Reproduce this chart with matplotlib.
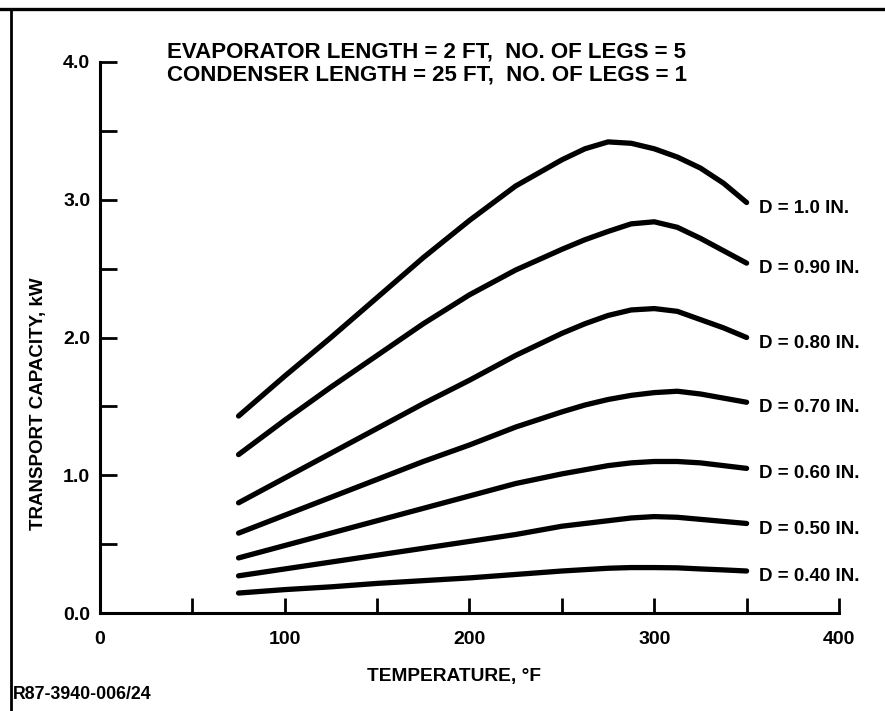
import matplotlib
matplotlib.use("Agg")
import matplotlib.pyplot as plt
from matplotlib import font_manager
from matplotlib.lines import Line2D

# temperature points, deg F
temps = [75, 100, 125, 150, 175, 200, 225, 250, 262.5, 275, 287.5, 300, 312.5, 325, 337.5, 350]

# transport capacity, kW, one list per pipe diameter
cap_100 = [1.43, 1.72, 2.00, 2.29, 2.58, 2.85, 3.10, 3.29, 3.37, 3.42, 3.41, 3.37, 3.31, 3.23, 3.12, 2.98]
cap_090 = [1.15, 1.40, 1.64, 1.87, 2.10, 2.31, 2.49, 2.64, 2.71, 2.77, 2.825, 2.84, 2.80, 2.72, 2.63, 2.54]
cap_080 = [0.80, 0.98, 1.16, 1.34, 1.52, 1.69, 1.87, 2.03, 2.10, 2.16, 2.20, 2.21, 2.19, 2.13, 2.07, 2.00]
cap_070 = [0.58, 0.71, 0.84, 0.97, 1.10, 1.22, 1.35, 1.46, 1.51, 1.55, 1.58, 1.60, 1.61, 1.59, 1.56, 1.53]
cap_060 = [0.40, 0.49, 0.58, 0.67, 0.76, 0.85, 0.94, 1.01, 1.04, 1.07, 1.09, 1.10, 1.10, 1.09, 1.07, 1.05]
cap_050 = [0.27, 0.32, 0.37, 0.42, 0.47, 0.52, 0.57, 0.63, 0.65, 0.67, 0.69, 0.70, 0.695, 0.68, 0.665, 0.65]
cap_040 = [0.145, 0.17, 0.19, 0.215, 0.235, 0.255, 0.28, 0.305, 0.315, 0.325, 0.33, 0.33, 0.328, 0.32, 0.313, 0.305]

curves = [cap_100, cap_090, cap_080, cap_070, cap_060, cap_050, cap_040]
curve_labels = ["D = 1.0 IN.", "D = 0.90 IN.", "D = 0.80 IN.", "D = 0.70 IN.",
                "D = 0.60 IN.", "D = 0.50 IN.", "D = 0.40 IN."]

x_ticks = [0, 50, 100, 150, 200, 250, 300, 350, 400]
x_tick_labels = ["0", "", "100", "", "200", "", "300", "", "400"]
y_ticks = [0.0, 0.5, 1.0, 1.5, 2.0, 2.5, 3.0, 3.5, 4.0]
y_tick_labels = ["0.0", "", "1.0", "", "2.0", "", "3.0", "", "4.0"]

header = ("EVAPORATOR LENGTH = 2 FT,  NO. OF LEGS = 5\n"
          "CONDENSER LENGTH = 25 FT,  NO. OF LEGS = 1")

# pick a narrow helvetica-like face if there is one
names = set(f.name for f in font_manager.fontManager.ttflist)
family = "Liberation Sans Narrow" if "Liberation Sans Narrow" in names else "Liberation Sans"
plt.rcParams["font.family"] = [family, "DejaVu Sans"]
plt.rcParams["font.weight"] = "bold"

fig = plt.figure(figsize=(8.85, 7.11), dpi=100)
ax = fig.add_axes([0.113, 0.1378, 0.835, 0.775])

for vals in curves:
    ax.plot(temps, vals, color="black", lw=3.8, solid_capstyle="round",
            solid_joinstyle="round")

for vals, lab in zip(curves, curve_labels):
    ax.annotate(lab, (temps[-1], vals[-1]), xytext=(9, -4),
                textcoords="offset points", ha="left", va="center",
                fontsize=13.5, annotation_clip=False)

ax.set_xlim(0, 400)
ax.set_ylim(0, 4.0)
ax.set_xticks(x_ticks)
ax.set_xticklabels(x_tick_labels)
ax.set_yticks(y_ticks)
ax.set_yticklabels(y_tick_labels)
ax.tick_params(axis="x", direction="in", length=11, width=2, pad=13, labelsize=14)
ax.tick_params(axis="y", direction="in", length=12, width=2, pad=7, labelsize=14)

for side in ["top", "right"]:
    ax.spines[side].set_visible(False)
for side in ["left", "bottom"]:
    ax.spines[side].set_linewidth(2.2)

ax.text(0.09, 1.038, header, transform=ax.transAxes, ha="left", va="top",
        fontsize=16, linespacing=1.15)

fig.text(0.513, 0.048, "TEMPERATURE, °F", ha="center", va="center", fontsize=13.8)
fig.text(0.043, 0.432, "TRANSPORT CAPACITY, kW", ha="center", va="center",
         rotation=90, fontsize=13.5)
fig.text(0.015, 0.023, "R87-3940-006/24", ha="left", va="center", fontsize=12.8)

# border of the scanned page
fig.add_artist(Line2D([0.0, 1.0], [0.987, 0.987], color="black", lw=2.4,
                      transform=fig.transFigure))
fig.add_artist(Line2D([0.012, 0.012], [0.0, 0.987], color="black", lw=2.0,
                      transform=fig.transFigure))

fig.savefig("out.png", dpi=100)
